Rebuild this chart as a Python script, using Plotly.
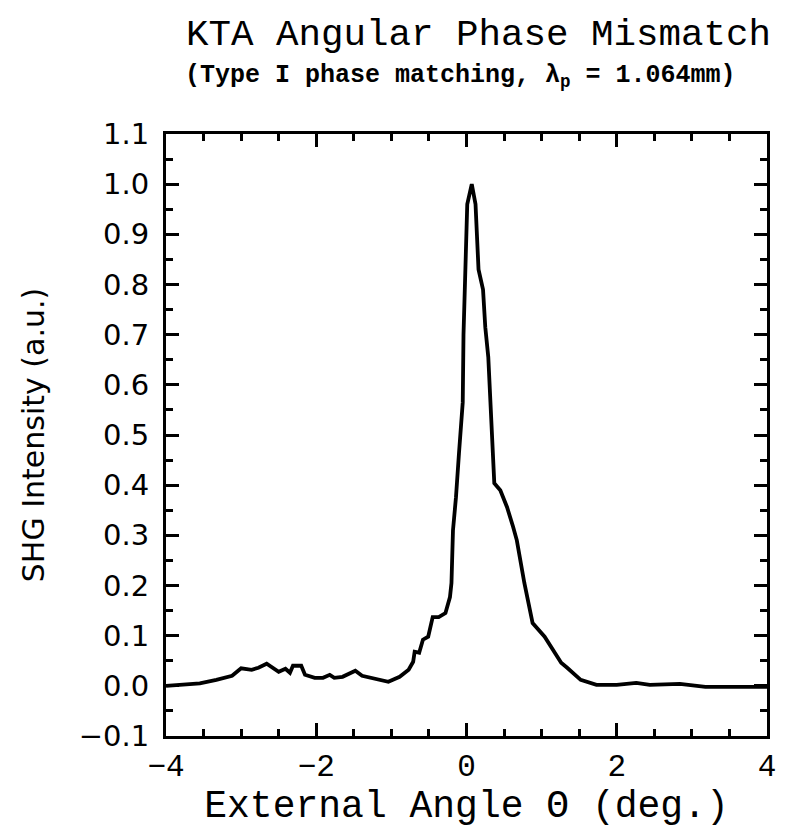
import plotly.graph_objects as go

# Measured SHG angular tuning curve for KTA (type I)
angle_deg = [
    -4.0, -3.55, -3.33, -3.12, -3.0, -2.86, -2.77, -2.66, -2.5, -2.41,
    -2.35, -2.31, -2.2, -2.15, -2.02, -1.91, -1.82, -1.76, -1.65, -1.48,
    -1.39, -1.23, -1.04, -0.89, -0.77, -0.71, -0.69, -0.63, -0.58, -0.51,
    -0.45, -0.37, -0.28, -0.22, -0.2, -0.18, -0.14, -0.1, -0.05, -0.04,
    -0.02, -0.01, 0.01, 0.07, 0.12, 0.14, 0.16, 0.22, 0.25, 0.29,
    0.32, 0.34, 0.37, 0.45, 0.54, 0.62, 0.67, 0.77, 0.88, 1.04,
    1.26, 1.34, 1.52, 1.73, 2.0, 2.26, 2.44, 2.84, 3.18, 4.0,
]
shg_intensity = [
    0.0, 0.005, 0.012, 0.02, 0.035, 0.032, 0.036, 0.044, 0.028, 0.034,
    0.026, 0.04, 0.04, 0.022, 0.016, 0.016, 0.022, 0.016, 0.018, 0.03,
    0.02, 0.014, 0.008, 0.018, 0.032, 0.048, 0.068, 0.066, 0.092, 0.098,
    0.137, 0.137, 0.145, 0.177, 0.205, 0.31, 0.376, 0.464, 0.565, 0.70,
    0.80, 0.895, 0.96, 1.0, 0.96, 0.895, 0.83, 0.79, 0.715, 0.655,
    0.565, 0.476, 0.404, 0.39, 0.356, 0.317, 0.29, 0.205, 0.125, 0.098,
    0.046, 0.036, 0.012, 0.002, 0.002, 0.006, 0.002, 0.004, -0.002, -0.002,
]

x_ticks = [-4, -2, 0, 2, 4]
x_ticklabels = ["\u22124", "\u22122", "0", "2", "4"]
y_ticks = [-0.1, 0.0, 0.1, 0.2, 0.3, 0.4, 0.5, 0.6, 0.7, 0.8, 0.9, 1.0, 1.1]
y_ticklabels = ["\u22120.1"] + [f"{v:.1f}" for v in y_ticks[1:]]

title_text = "KTA Angular Phase Mismatch"
subtitle_text = "(Type I phase matching, \u03bb<sub>p</sub> = 1.064mm)"
x_title = "External Angle \u0398 (deg.)"
y_title = "SHG Intensity (a.u.)"

mono = "Liberation Mono"
sans = "DejaVu Sans"

fig = go.Figure(
    go.Scatter(
        x=angle_deg,
        y=shg_intensity,
        mode="lines",
        line=dict(color="black", width=3.8),
        showlegend=False,
        hoverinfo="skip",
    )
)

fig.update_layout(
    width=786,
    height=829,
    margin=dict(l=166, r=10, t=134, b=93),
    paper_bgcolor="white",
    plot_bgcolor="white",
    annotations=[
        dict(text=title_text, xref="paper", yref="paper", x=0.52, y=1.164,
             showarrow=False, xanchor="center", yanchor="middle",
             font=dict(family=mono, size=37.5, color="black")),
        dict(text="<b>" + subtitle_text + "</b>", xref="paper", yref="paper",
             x=0.49, y=1.096, showarrow=False, xanchor="center", yanchor="middle",
             font=dict(family=mono, size=25, color="black")),
    ],
)

fig.update_xaxes(
    range=[-4, 4],
    tickmode="array", tickvals=x_ticks, ticktext=x_ticklabels,
    ticks="inside", ticklen=13, tickwidth=2.5, tickcolor="black",
    minor=dict(dtick=0.5, tick0=0, ticks="inside", ticklen=7, tickwidth=2.5, tickcolor="black"),
    showline=True, linewidth=3, linecolor="black", mirror="allticks",
    showgrid=False, zeroline=False,
    tickfont=dict(family=mono, size=31, color="black"),
    title=dict(text=x_title, font=dict(family=mono, size=38, color="black"), standoff=4),
)

fig.update_yaxes(
    range=[-0.1, 1.1],
    tickmode="array", tickvals=y_ticks, ticktext=y_ticklabels,
    ticks="inside", ticklen=13, tickwidth=2.5, tickcolor="black",
    minor=dict(dtick=0.05, tick0=0, ticks="inside", ticklen=7, tickwidth=2.5, tickcolor="black"),
    showline=True, linewidth=3, linecolor="black", mirror="allticks",
    showgrid=False, zeroline=False,
    ticklabelstandoff=8,
    tickfont=dict(family=sans, size=29, color="black"),
    title=dict(text=y_title, font=dict(family=sans, size=30, color="black"), standoff=26),
)

fig.write_html("out.html")
